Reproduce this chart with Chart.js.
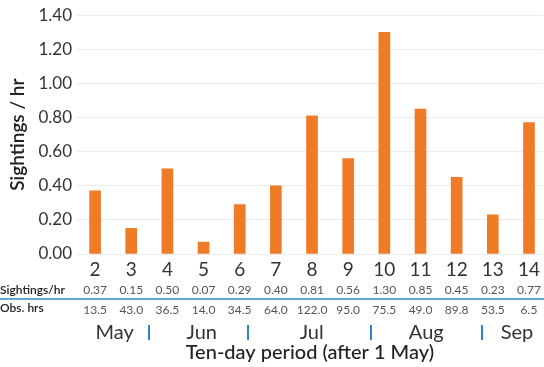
<!DOCTYPE html>
<html>
<head>
<meta charset="utf-8">
<script src="https://cdn.jsdelivr.net/npm/chart.js@4.4.1/dist/chart.umd.min.js"></script>
<style>
  html, body { margin: 0; padding: 0; background: #fff; }
  canvas { display: block; }
</style>
</head>
<body>
<canvas id="sightingsChart" width="544" height="367"></canvas>
<script>
// ten-day periods (after 1 May) and the two table rows
const periods = [2, 3, 4, 5, 6, 7, 8, 9, 10, 11, 12, 13, 14];
const sightingsPerHr = [0.37, 0.15, 0.50, 0.07, 0.29, 0.40, 0.81, 0.56, 1.30, 0.85, 0.45, 0.23, 0.77];
const obsHours = [13.5, 43.0, 36.5, 14.0, 34.5, 64.0, 122.0, 95.0, 75.5, 49.0, 89.8, 53.5, 6.5];

// month labels and the breaks between them, in period units
const months = ['May', 'Jun', 'Jul', 'Aug', 'Sep'];
const monthCentres = [2.54, 4.95, 7.99, 11.16, 13.67];
const monthBreaks = [3.48, 6.22, 9.64, 12.69];

const yTicks = [0, 0.2, 0.4, 0.6, 0.8, 1.0, 1.2, 1.4];

const BAR = '#ef7b27';
const BLUE = '#2b87c8';

// draws the table rows and month strip under the x axis
const tableRows = {
	id: 'tableRows',
	afterDraw(chart) {
		const ctx = chart.ctx;
		const x = chart.scales.x;
		ctx.save();
		ctx.textBaseline = 'middle';

		ctx.fillStyle = '#222';
		ctx.textAlign = 'left';
		ctx.font = '600 12px Lato';
		ctx.fillText('Sightings/hr', 0, 290);
		ctx.fillText('Obs. hrs', 0, 308);

		ctx.fillStyle = '#555';
		ctx.textAlign = 'center';
		ctx.font = '12px Lato';
		periods.forEach((p, i) => {
			const px = x.getPixelForValue(p);
			ctx.fillText(sightingsPerHr[i].toFixed(2), px, 290);
			ctx.fillText(obsHours[i].toFixed(1), px, 310);
		});

		ctx.strokeStyle = BLUE;
		ctx.lineWidth = 1.5;
		ctx.beginPath();
		ctx.moveTo(0, 299);
		ctx.lineTo(chart.width, 299);
		ctx.stroke();

		ctx.fillStyle = '#333';
		ctx.font = '20px Lato';
		months.forEach((m, i) => {
			ctx.fillText(m, x.getPixelForValue(monthCentres[i]), 333);
		});

		ctx.lineWidth = 2;
		monthBreaks.forEach(b => {
			const bx = Math.round(x.getPixelForValue(b));
			ctx.beginPath();
			ctx.moveTo(bx, 325);
			ctx.lineTo(bx, 340);
			ctx.stroke();
		});
		ctx.restore();
	}
};

Chart.defaults.font.family = 'Lato';
Chart.defaults.color = '#333';

new Chart(document.getElementById('sightingsChart'), {
	type: 'bar',
	data: {
		datasets: [{
			data: periods.map((p, i) => ({ x: p, y: sightingsPerHr[i] })),
			backgroundColor: BAR,
			borderWidth: 0,
			barThickness: 11
		}]
	},
	options: {
		responsive: false,
		animation: false,
		layout: { padding: { top: 14, right: 0, left: 0, bottom: 0 } },
		scales: {
			x: {
				type: 'linear',
				offset: false,
				min: 1.5,
				max: 14.38,
				afterBuildTicks: s => { s.ticks = periods.map(v => ({ value: v })); },
				afterFit: s => { s.height = 113; },
				grid: { display: false, drawTicks: false },
				border: { display: false },
				ticks: {
					font: { size: 19 },
					color: '#333',
					padding: 4,
					maxRotation: 0,
					autoSkip: false
				},
				title: {
					display: true,
					text: 'Ten-day period (after 1 May)',
					font: { size: 20, weight: '500' },
					color: '#222',
					padding: { top: 0, bottom: 2 }
				}
			},
			y: {
				min: 0,
				max: 1.4,
				afterBuildTicks: s => { s.ticks = yTicks.map(v => ({ value: v })); },
				afterFit: s => { s.width = 77; },
				grid: { color: '#ececec', drawTicks: false, lineWidth: 1 },
				border: { display: false },
				ticks: {
					font: { size: 17 },
					color: '#333',
					padding: 5,
					callback: v => v.toFixed(2)
				},
				title: {
					display: true,
					text: 'Sightings / hr',
					font: { size: 19, weight: '600' },
					color: '#222',
					padding: { top: 6, bottom: 0 }
				}
			}
		},
		plugins: {
			legend: { display: false },
			tooltip: { enabled: false }
		}
	},
	plugins: [tableRows]
});
</script>
</body>
</html>
